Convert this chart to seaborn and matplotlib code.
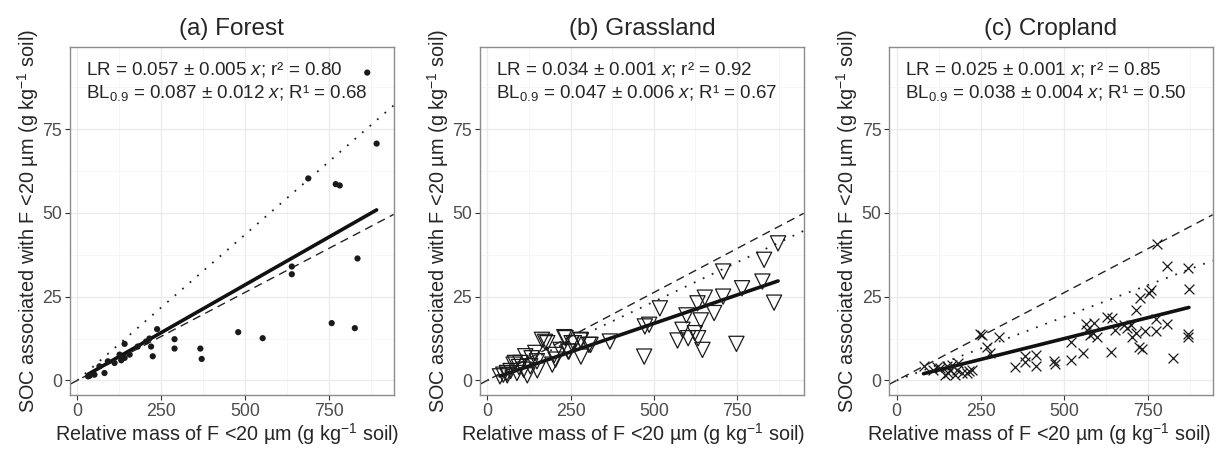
import numpy as np
import pandas as pd
import matplotlib
matplotlib.use("Agg")
import matplotlib.pyplot as plt
from matplotlib.ticker import MultipleLocator
import seaborn as sns

# --- data ---
forest_x = [865, 893, 689, 771, 783, 640, 640, 836, 759, 828, 480, 553, 238, 290, 290, 367,
            371, 220, 225, 141, 131, 141, 111, 81, 91, 156, 126, 32, 37, 51, 66, 180, 205, 215]
forest_y = [91.9, 70.7, 60.3, 58.6, 58.2, 34.0, 31.7, 36.4, 17.1, 15.6, 14.4, 12.6, 15.3, 12.3, 9.5, 9.5,
            6.4, 10.1, 7.2, 10.9, 6.0, 6.7, 5.2, 2.2, 5.7, 7.7, 7.7, 1.2, 1.4, 1.7, 4.2, 10.1, 11.6, 12.5]

grass_x = [873, 831, 826, 861, 765, 708, 708, 653, 631, 641, 681, 598, 586, 571, 603, 623, 633,
           646, 748, 518, 473, 486, 471, 368, 305, 281, 281, 231, 253, 243, 164, 180, 173, 235,
           260, 280, 195, 205, 144, 114, 79, 99, 48, 59, 38, 89, 109, 129, 149, 220, 245, 310,
           201, 133, 83, 60, 70, 120, 95, 150]
grass_y = [40.9, 36.0, 29.5, 23.2, 27.5, 25.0, 32.5, 24.7, 23.0, 17.9, 20.1, 19.4, 15.1, 11.9, 12.6, 14.1, 12.6,
           9.1, 10.9, 21.5, 16.1, 16.6, 7.1, 11.6, 10.6, 11.9, 7.1, 12.9, 11.1, 8.6, 12.1, 11.1, 11.5, 12.6,
           11.1, 12.1, 4.7, 6.2, 8.2, 7.2, 4.7, 5.2, 1.7, 2.2, 1.2, 2.2, 3.2, 4.2, 5.7, 9.1, 8.6, 10.6,
           7.6, 6.6, 5.2, 1.5, 2.8, 1.5, 4.0, 3.0]

crop_x = [777, 805, 869, 871, 757, 752, 725, 712, 774, 805, 772, 739, 722, 730, 702, 712, 685, 697,
          677, 652, 627, 642, 640, 825, 869, 869, 563, 588, 568, 576, 597, 586, 556, 518, 519, 468,
          473, 415, 416, 383, 381, 354, 306, 249, 254, 268, 277, 224, 209, 80, 109, 129, 149, 164,
          179, 154, 174, 194, 214, 144, 184, 120, 160]
crop_y = [40.7, 34.3, 33.5, 27.2, 27.0, 26.2, 24.7, 20.9, 18.3, 16.9, 14.6, 14.8, 10.1, 9.4, 13.1, 14.1, 15.6, 16.6,
          16.6, 15.1, 18.9, 18.6, 8.6, 6.7, 13.8, 12.9, 16.9, 17.1, 15.1, 13.6, 13.1, 14.1, 8.3, 6.0, 11.6, 5.7,
          5.0, 7.6, 4.4, 7.3, 5.4, 4.0, 12.9, 13.8, 13.5, 9.9, 8.1, 3.0, 2.2, 4.2, 3.2, 3.7, 4.2, 4.7,
          3.2, 2.2, 1.7, 2.2, 2.7, 1.7, 5.2, 4.0, 3.0]

titles = ["(a) Forest", "(b) Grassland", "(c) Cropland"]
lr_slope = [0.057, 0.034, 0.025]
lr_se = [0.005, 0.001, 0.001]
lr_r2 = [0.80, 0.92, 0.85]
bl_slope = [0.087, 0.047, 0.038]
bl_se = [0.012, 0.006, 0.004]
bl_r1 = [0.68, 0.67, 0.50]
ref_slope = 0.0525  # dashed reference line common to all panels

sns.set_theme(style="whitegrid")
plt.rcParams["font.family"] = ["Liberation Sans", "DejaVu Sans"]
plt.rcParams["mathtext.fontset"] = "custom"
plt.rcParams["mathtext.rm"] = "Liberation Sans"
plt.rcParams["mathtext.it"] = "Liberation Sans:italic"
plt.rcParams["mathtext.default"] = "regular"

fig = plt.figure(figsize=(12.17, 4.49), dpi=100)
lefts = [0.0575, 0.3944, 0.7305]
xlims = [(-22, 944), (-22, 950), (-23, 942)]
xlab_pos = [0.485, 0.472, 0.463]
panels = [(forest_x, forest_y, "o"), (grass_x, grass_y, "v"), (crop_x, crop_y, "x")]

for i, (xs, ys, mk) in enumerate(panels):
    ax = fig.add_axes([lefts[i], 0.120, 0.266, 0.775])
    df = pd.DataFrame({"x": xs, "y": ys})
    xlo, xhi = xlims[i]

    # lines
    ref = pd.DataFrame({"x": [xlo, xhi]})
    ref["y"] = ref_slope * ref["x"]
    sns.lineplot(data=ref, x="x", y="y", ax=ax, color="#222222", lw=1.0,
                 linestyle=(0, (6, 4)))
    bl = pd.DataFrame({"x": [0, xhi]})
    bl["y"] = bl_slope[i] * bl["x"]
    sns.lineplot(data=bl, x="x", y="y", ax=ax, color="#222222", lw=1.3,
                 linestyle=(0, (1, 4.5)))
    lr = pd.DataFrame({"x": [min(xs), max(xs)]})
    lr["y"] = lr_slope[i] * lr["x"]
    sns.lineplot(data=lr, x="x", y="y", ax=ax, color="#111111", lw=2.6)

    # points
    if mk == "o":
        sns.scatterplot(data=df, x="x", y="y", ax=ax, marker="o", s=20,
                        color="#1a1a1a", edgecolor="none", zorder=3)
    elif mk == "v":
        sns.scatterplot(data=df, x="x", y="y", ax=ax, marker="v", s=120,
                        facecolor="none", edgecolor="#1a1a1a", linewidth=0.9, zorder=3)
    else:
        sns.scatterplot(data=df, x="x", y="y", ax=ax, marker="x", s=50,
                        color="#1a1a1a", linewidth=0.9, zorder=3)

    ax.set_xlim(xlo, xhi)
    ax.set_ylim(-4.4, 99.5)
    ax.xaxis.set_major_locator(MultipleLocator(250))
    ax.xaxis.set_minor_locator(MultipleLocator(125))
    ax.yaxis.set_major_locator(MultipleLocator(25))
    ax.yaxis.set_minor_locator(MultipleLocator(12.5))
    ax.grid(which="major", color="#EBEBEB", lw=1.0)
    ax.grid(which="minor", color="#F5F5F5", lw=0.6)
    ax.set_axisbelow(True)
    for sp in ax.spines.values():
        sp.set_color("#8C8C8C")
        sp.set_linewidth(1.0)
    ax.tick_params(which="major", length=3.5, width=0.8, color="#333333",
                   labelcolor="#4D4D4D", labelsize=12.8, pad=2, bottom=True, left=True)
    ax.tick_params(which="minor", length=0)

    ax.set_title(titles[i], fontsize=17.5, pad=9)
    ax.set_xlabel("Relative mass of F <20 µm (g kg$^{-1}$ soil)", fontsize=14.2, labelpad=0)
    ax.xaxis.set_label_coords(xlab_pos[i], -0.075)
    ax.set_ylabel("SOC associated with F <20 µm (g kg$^{-1}$ soil)", fontsize=14.3, labelpad=1)

    ax.text(0.05, 0.963, f"LR = {lr_slope[i]:.3f} ± {lr_se[i]:.3f} $\\it{{x}}$; r² = {lr_r2[i]:.2f}",
            transform=ax.transAxes, ha="left", va="top", fontsize=13.5)
    ax.text(0.05, 0.897, f"BL$_{{0.9}}$ = {bl_slope[i]:.3f} ± {bl_se[i]:.3f} $\\it{{x}}$; R¹ = {bl_r1[i]:.2f}",
            transform=ax.transAxes, ha="left", va="top", fontsize=13.5)

fig.savefig("out.png", dpi=100, facecolor="white")
